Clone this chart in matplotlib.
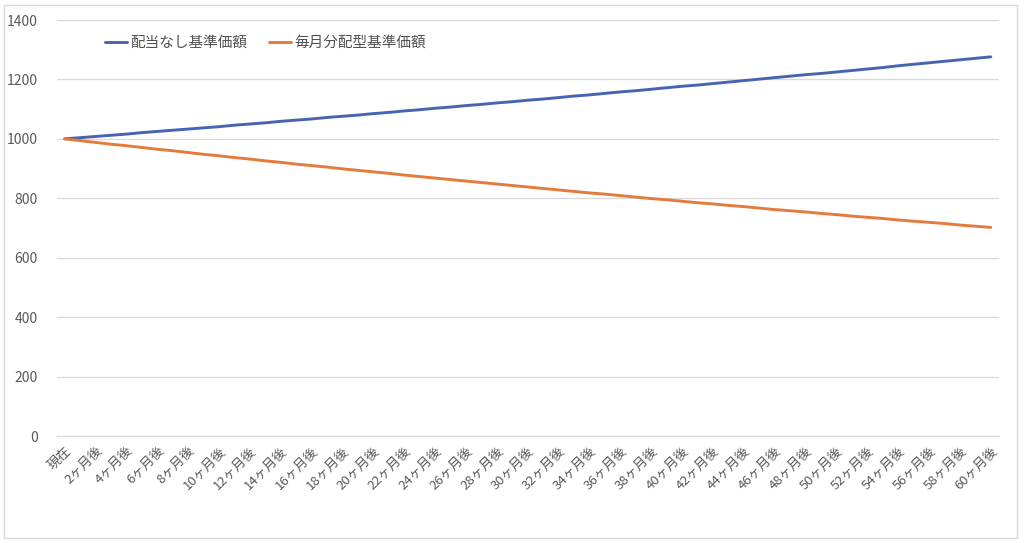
import matplotlib
matplotlib.use("Agg")
import matplotlib.pyplot as plt
from matplotlib.patches import Rectangle

plt.rcParams['font.family'] = ['Noto Sans CJK JP', 'DejaVu Sans']

months = ["現在"] + [f"{i}ヶ月後" for i in range(1, 61)]

no_dividend = [
    1000, 1004, 1008, 1012, 1016, 1021, 1025, 1029, 1033, 1037,
    1041, 1046, 1050, 1054, 1059, 1063, 1067, 1072, 1076, 1080,
    1085, 1089, 1094, 1098, 1103, 1107, 1112, 1116, 1121, 1125,
    1130, 1134, 1139, 1144, 1148, 1153, 1158, 1162, 1167, 1172,
    1177, 1181, 1186, 1191, 1196, 1201, 1206, 1211, 1216, 1220,
    1225, 1230, 1235, 1240, 1246, 1251, 1256, 1261, 1266, 1271,
    1276,
]

monthly_dividend = [
    1000, 994, 988, 982, 977, 971, 965, 960, 954, 948,
    943, 937, 932, 926, 921, 915, 910, 905, 899, 894,
    889, 884, 878, 873, 868, 863, 858, 853, 848, 843,
    838, 833, 828, 823, 818, 814, 809, 804, 799, 795,
    790, 785, 781, 776, 772, 767, 762, 758, 754, 749,
    745, 740, 736, 732, 727, 723, 719, 715, 710, 706,
    702,
]

series_names = ["配当なし基準価額", "毎月分配型基準価額"]
colors = ["#4863B2", "#E47B3C"]
yticks = [0, 200, 400, 600, 800, 1000, 1200, 1400]

W, H = 1024, 543
fig = plt.figure(figsize=(W / 100, H / 100), dpi=100)
fig.patch.set_facecolor("white")
fig.add_artist(Rectangle((4 / W, 5 / H), 1013 / W, 533 / H, transform=fig.transFigure,
                         fill=False, edgecolor="#d9d9d9", linewidth=1.0))

ax = fig.add_axes([57 / W, 1 - 436 / H, 941.5 / W, 416 / H])
x = list(range(len(months)))
ax.plot(x, no_dividend, color=colors[0], lw=2.1, label=series_names[0], solid_capstyle="round")
ax.plot(x, monthly_dividend, color=colors[1], lw=2.1, label=series_names[1], solid_capstyle="round")

ax.set_xlim(-0.5, len(months) - 0.5)
ax.set_ylim(0, 1400)
ax.set_yticks(yticks)
ax.set_yticklabels([str(v) for v in yticks], fontsize=10, color="#595959")
ax.yaxis.grid(True, color="#d9d9d9", lw=0.9)
ax.set_axisbelow(True)

ax.set_xticks(x[::2])
ax.set_xticklabels(months[::2], rotation=45, ha="right", rotation_mode="anchor",
                   fontsize=9.5, color="#595959")
ax.tick_params(axis="both", length=0)
ax.tick_params(axis="y", pad=14)
ax.tick_params(axis="x", pad=6)

for s in ["top", "right", "left"]:
    ax.spines[s].set_visible(False)
ax.spines["bottom"].set_color("#d9d9d9")
ax.spines["bottom"].set_linewidth(0.9)

leg = ax.legend(loc="upper left", bbox_to_anchor=(42 / 941.5, 1 - 10 / 416), ncol=2,
                frameon=False, fontsize=10.5, handlelength=1.5, handletextpad=0.25,
                columnspacing=1.5, borderaxespad=0)
for t in leg.get_texts():
    t.set_color("#505050")

fig.savefig("out.png", dpi=100)
